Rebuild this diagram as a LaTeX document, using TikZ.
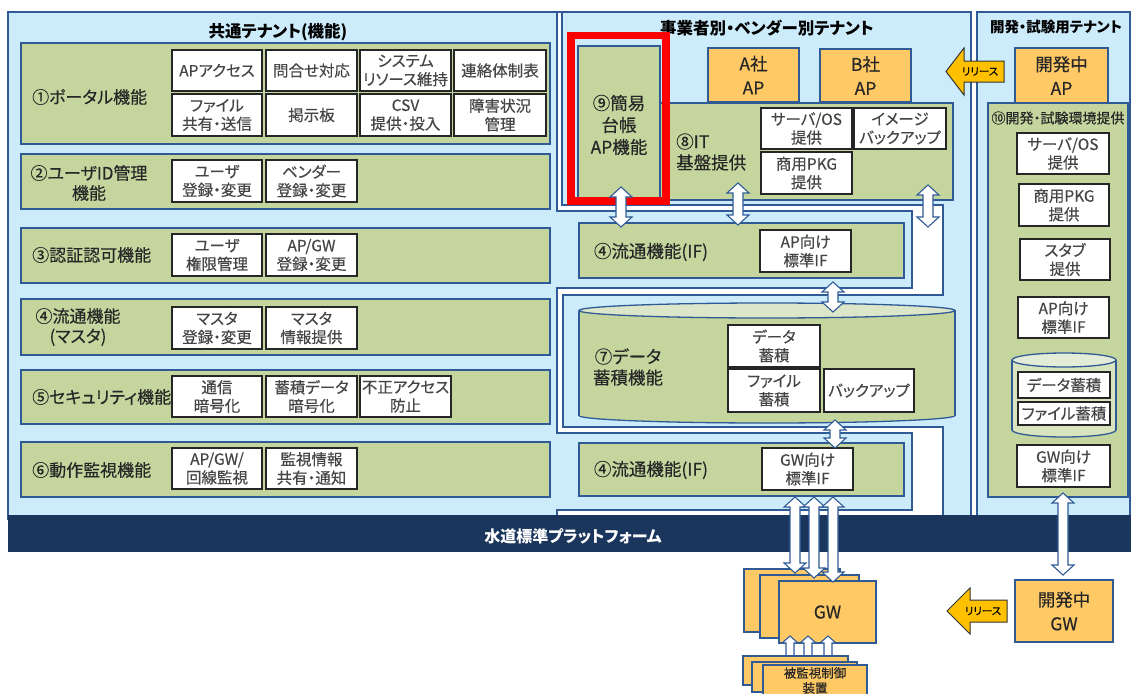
\documentclass[tikz,border=0pt]{standalone}
\usepackage{fontspec}
\setmainfont[RawFeature=+palt, UprightFeatures={FakeBold=0.35}]{Noto Sans CJK JP}
\newcommand{\fsz}[2]{\fontsize{#1}{#2}\selectfont}
\definecolor{lb}{HTML}{CCEBFB}
\definecolor{bord}{HTML}{2F5A96}
\definecolor{grn}{HTML}{C4D69E}
\definecolor{ltgrn}{HTML}{DCE6C8}
\definecolor{cylb}{HTML}{D7E4BD}
\definecolor{cylt}{HTML}{E3ECD6}
\definecolor{org}{HTML}{FFCA66}
\definecolor{yel}{HTML}{FFC000}
\definecolor{navy}{HTML}{1A365D}
\definecolor{txt}{HTML}{454545}
\definecolor{dtxt}{HTML}{262626}
% box by corners: name, style, x1, y1, x2, y2, text
\newcommand{\bx}[7]{\node[#2, minimum width={(#5-#3)*1pt}, minimum height={(#6-#4)*1pt}] (#1) at ({(#3+#5)/2},{(#4+#6)/2}) {#7};}
% vertical double block arrow: x, ytop, ybottom
\newcommand{\dvarrow}[3]{\draw[blk] (#1-5,#2+10) -- (#1-11,#2+10) -- (#1,#2) -- (#1+11,#2+10) -- (#1+5,#2+10) -- (#1+5,#3-10) -- (#1+11,#3-10) -- (#1,#3) -- (#1-11,#3-10) -- (#1-5,#3-10) -- cycle;}
% upward single block arrow: x, ytip, ybottom
\newcommand{\uparr}[3]{\draw[blk] (#1-4,#3) -- (#1-4,#2+7) -- (#1-8,#2+7) -- (#1,#2) -- (#1+8,#2+7) -- (#1+4,#2+7) -- (#1+4,#3) -- cycle;}
\begin{document}
\begin{tikzpicture}[x=1pt,y=-1pt, line join=miter,
  gbox/.style={draw=bord, fill=grn, line width=1.3pt, inner sep=0pt},
  wbox/.style={draw=black!85, fill=white, line width=1.1pt, inner sep=0pt, align=center, text=txt, font=\fsz{15.5}{18.5}},
  obox/.style={draw=bord, fill=org, line width=1.2pt, inner sep=0pt, align=center, text=dtxt, font=\fsz{17.5}{24}},
  lbl/.style={text=dtxt, inner sep=0pt, font=\fsz{17}{20}},
  mlbl/.style={text=dtxt, inner sep=0pt, align=center, font=\fsz{17.5}{22}},
  ttl/.style={text=black, inner sep=0pt, font=\bfseries\fsz{16.5}{18}},
  panel/.style={draw=bord, fill=lb, line width=1.3pt},
  bline/.style={draw=bord, line width=1.3pt},
  blk/.style={draw=bord, fill=white, line width=1.1pt},
  rel/.style={draw=black!80, fill=yel, line width=1pt},
  reltxt/.style={text=black, inner sep=0pt, font=\fsz{10.5}{12}}]

\useasboundingbox (0,0) rectangle (1131,693);

% ---------- panels ----------
\fill[lb] (8,12) rectangle (971,515);
\draw[bline] (8,520) -- (8,12) -- (557,12);
\draw[bline] (562,12) -- (971,12) -- (971,520);
\draw[bline, fill=white] (557,12) -- (562,12) -- (562,205) -- (943,205) -- (943,295) -- (563,295) -- (563,427) -- (943,427) -- (943,520) -- (557,520) -- (557,510) -- (912,510) -- (912,433) -- (557,433) -- (557,288) -- (912,288) -- (912,211) -- (557,211) -- cycle;
\draw[panel] (977,12) rectangle (1130,520);

% ---------- platform band ----------
\fill[navy] (8,515) rectangle (1131,552);
\node[font=\bfseries\fsz{16}{18}, text=white, inner sep=0pt] (band) at (573,536) {水道標準プラットフォーム};

% ---------- titles ----------
\node[ttl] (t1) at (278,32) {共通テナント(機能)};
\node[ttl] (t2) at (767,28) {事業者別・ベンダー別テナント};
\node[ttl, font=\bfseries\fsz{14.5}{16}] (t3) at (1056,27) {開発・試験用テナント};

% ---------- left panel rows ----------
\bx{r1}{gbox}{21}{43}{550}{144}{}
\bx{r2}{gbox}{21}{154}{550}{209}{}
\bx{r3}{gbox}{21}{228}{550}{283}{}
\bx{r4}{gbox}{21}{299}{550}{355}{}
\bx{r5}{gbox}{21}{370}{550}{424}{}
\bx{r6}{gbox}{21}{442}{550}{497}{}

\node[lbl, anchor=west] (l1) at (32,97) {①ポータル機能};
\node[lbl, align=center] (l2) at (89,183) {②ユーザID管理\\機能};
\node[lbl, anchor=west] (l3) at (32,255) {③認証認可機能};
\node[lbl, align=center] (l4) at (78,327) {④流通機能\\(マスタ)};
\node[lbl, anchor=west] (l5) at (32,397) {⑤セキュリティ機能};
\node[lbl, anchor=west] (l6) at (32,470) {⑥動作監視機能};

\bx{p1}{wbox}{172}{50}{262}{91}{APアクセス}
\bx{p2}{wbox}{266}{50}{357}{91}{問合せ対応}
\bx{p3}{wbox}{360}{50}{451}{91}{システム\\リソース維持}
\bx{p4}{wbox}{454}{50}{546}{91}{連絡体制表}
\bx{p5}{wbox}{172}{94}{262}{136}{ファイル\\共有・送信}
\bx{p6}{wbox}{266}{94}{357}{136}{掲示板}
\bx{p7}{wbox}{360}{94}{451}{136}{CSV\\提供・投入}
\bx{p8}{wbox}{454}{94}{546}{136}{障害状況\\管理}

\bx{u1}{wbox}{172}{160}{262}{202}{ユーザ\\登録・変更}
\bx{u2}{wbox}{266}{160}{357}{202}{ベンダー\\登録・変更}

\bx{a1}{wbox}{172}{234}{262}{276}{ユーザ\\権限管理}
\bx{a2}{wbox}{266}{234}{357}{276}{AP/GW\\登録・変更}

\bx{m1}{wbox}{172}{307}{262}{349}{マスタ\\登録・変更}
\bx{m2}{wbox}{266}{307}{357}{349}{マスタ\\情報提供}

\bx{s1}{wbox}{172}{376}{262}{417}{通信\\暗号化}
\bx{s2}{wbox}{266}{376}{357}{417}{蓄積データ\\暗号化}
\bx{s3}{wbox}{360}{376}{451}{417}{不正アクセス\\防止}

\bx{o1}{wbox}{172}{448}{262}{489}{AP/GW/\\回線監視}
\bx{o2}{wbox}{266}{448}{357}{489}{監視情報\\共有・通知}

% ---------- middle panel ----------
\bx{it}{gbox}{650}{103}{953}{200}{}
\bx{kan}{gbox}{578}{46}{660}{200}{}
\bx{apa}{obox}{708}{48}{799}{102}{A社\\AP}
\bx{apb}{obox}{820}{49}{911}{102}{B社\\AP}
\node[mlbl] (l9) at (619,125) {⑨簡易\\台帳\\AP機能};
\node[mlbl, anchor=west, align=left, font=\fsz{17.5}{21}] (l8) at (676,152) {⑧IT\\基盤提供};
\bx{it1}{wbox}{761}{108}{852}{149}{サーバ/OS\\提供}
\bx{it2}{wbox}{854}{108}{946}{149}{イメージ\\バックアップ}
\bx{it3}{wbox}{761}{152}{852}{194}{商用PKG\\提供}

\bx{if1}{gbox}{579}{223}{904}{278}{}
\node[mlbl] (lif1) at (651,252) {④流通機能(IF)};
\bx{apif}{wbox}{760}{230}{851}{272}{AP向け\\標準IF}

% data cylinder
\draw[bline, fill=grn] (767,415.5) ellipse [x radius=188, y radius=7.5];
\fill[grn] (579,310.5) rectangle (955,415.5);
\draw[bline] (579,310.5) -- (579,415.5) (955,310.5) -- (955,415.5);
\draw[bline, fill=ltgrn] (767,310.5) ellipse [x radius=188, y radius=7.5];
\node[mlbl, font=\fsz{17.5}{21}] (l7) at (628,367) {⑦データ\\蓄積機能};
\bx{d1}{wbox}{728}{325}{820}{367}{データ\\蓄積}
\bx{d2}{wbox}{728}{369}{820}{412}{ファイル\\蓄積}
\bx{d3}{wbox}{824}{369}{914}{412}{バックアップ}

\bx{if2}{gbox}{579}{443}{904}{496}{}
\node[mlbl] (lif2) at (651,470) {④流通機能(IF)};
\bx{gwif}{wbox}{762}{448}{853}{490}{GW向け\\標準IF}

% highlight
\draw[red, line width=7.5pt] (571,35.5) rectangle (666,201);

% ---------- right panel ----------
\bx{devap}{obox}{1015}{48}{1108}{103}{開発中\\AP}
\bx{dev}{gbox}{988}{103}{1128}{497}{}
\node[text=dtxt, inner sep=0pt, font=\fsz{14}{16}] (l10) at (1058,118) {⑩開発・試験環境提供};
\bx{e1}{wbox}{1017}{133}{1109}{174}{サーバ/OS\\提供}
\bx{e2}{wbox}{1019}{184}{1109}{226}{商用PKG\\提供}
\bx{e3}{wbox}{1020}{239}{1110}{280}{スタブ\\提供}
\bx{e4}{wbox}{1018}{297}{1109}{338}{AP向け\\標準IF}
\draw[bline, fill=cylb] (1064,430) ellipse [x radius=52, y radius=7];
\fill[cylb] (1012,360) rectangle (1116,430);
\draw[bline] (1012,360) -- (1012,430) (1116,360) -- (1116,430);
\draw[bline, fill=cylt] (1064,360) ellipse [x radius=52, y radius=7];
\bx{e5}{wbox}{1018}{372}{1110}{398}{データ蓄積}
\bx{e6}{wbox}{1018}{402}{1110}{425}{ファイル蓄積}
\bx{e7}{wbox}{1017}{445}{1110}{487}{GW向け\\標準IF}

% ---------- below the platform ----------
\bx{gwa}{obox}{744}{569}{840}{632}{}
\bx{gwb}{obox}{760}{575}{859}{638}{}
\bx{gwc}{obox}{779}{581}{876}{643}{GW}
\bx{devgw}{obox}{1015}{580}{1113}{642}{開発中\\GW}

\draw[rel] (946,71.5) -- (964,48) -- (964,61) -- (1004,61) -- (1004,82) -- (964,82) -- (964,95) -- cycle;
\node[reltxt] (rel1) at (980,71.5) {リリース};
\draw[rel] (947,611) -- (970,588) -- (970,600) -- (1007,600) -- (1007,622) -- (970,622) -- (970,634) -- cycle;
\node[reltxt] (rel2) at (983,611) {リリース};

% ---------- block arrows ----------
\dvarrow{621}{187}{227}
\dvarrow{738}{183}{225}
\dvarrow{928}{185}{227}
\dvarrow{833}{282}{312}
\dvarrow{835}{420}{448}
\dvarrow{795}{497}{573}
\dvarrow{814}{497}{578}
\dvarrow{833}{497}{582}
\dvarrow{1063}{493}{575}
\uparr{790}{636}{668}
\uparr{808}{636}{668}
\uparr{828}{636}{668}

% ---------- monitored devices ----------
\bx{dva}{obox}{743}{656}{848}{685}{}
\bx{dvb}{obox}{752}{662}{857}{692}{}
\bx{dvc}{obox}{763}{665}{867}{702}{}
\node[text=dtxt, inner sep=0pt, align=center, font=\fsz{12.5}{15}] (ldv) at (815,680.5) {被監視制御\\装置};
\end{tikzpicture}
\end{document}
